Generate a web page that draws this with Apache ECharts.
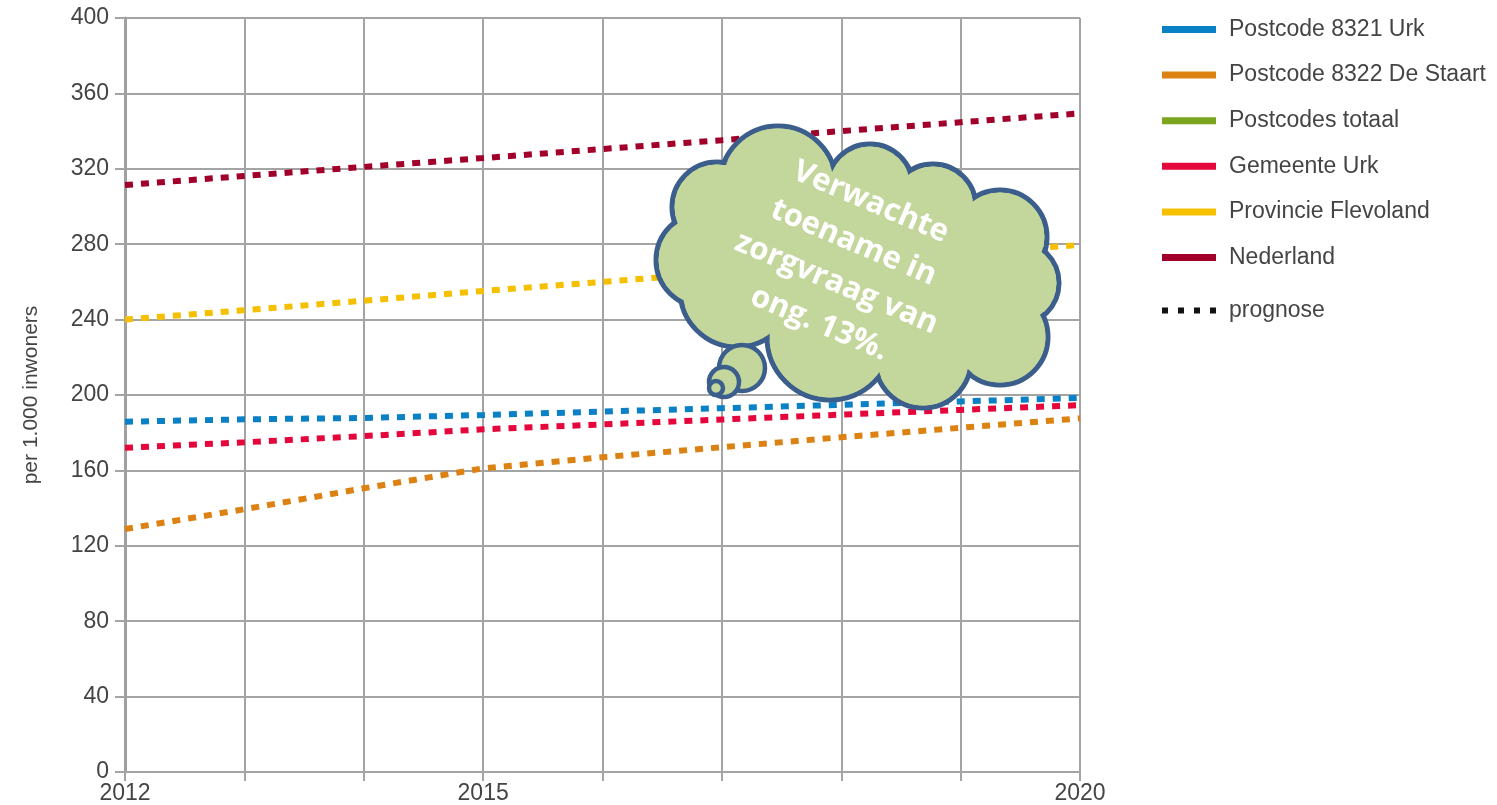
<!DOCTYPE html>
<html>
<head>
<meta charset="utf-8">
<script src="https://cdn.jsdelivr.net/npm/echarts@6/dist/echarts.min.js"></script>
<style>
html,body{margin:0;padding:0;background:#fff;}
#chart{width:1497px;height:805px;}
</style>
</head>
<body>
<div id="chart"></div>
<script>
// ---- data ----
const years = [2012, 2013, 2014, 2015, 2016, 2017, 2018, 2019, 2020];
const xTickLabels = [2012, 2015, 2020];
const seriesNames = ['Postcode 8321 Urk', 'Postcode 8322 De Staart', 'Postcodes totaal', 'Gemeente Urk', 'Provincie Flevoland', 'Nederland'];
const urk8321 = [185.8, 187.1, 187.8, 189.4, 191.2, 193.0, 194.8, 196.6, 198.4];
const staart8322 = [128.9, 139.4, 150.5, 161.1, 167.0, 172.3, 177.6, 182.6, 187.6];
const postcodesTotaal = [];
const gemeenteUrk = [172.0, 174.9, 178.2, 181.8, 184.4, 187.0, 189.6, 192.1, 194.6];
const flevoland = [240.0, 245.0, 250.0, 255.2, 260.0, 265.0, 270.0, 275.0, 279.6];
const nederland = [311.4, 316.2, 321.0, 325.7, 330.5, 335.2, 340.0, 344.7, 349.4];
const yTicks = [0, 40, 80, 120, 160, 200, 240, 280, 320, 360, 400];
const calloutText = 'Verwachte\ntoename in\nzorgvraag van\nong. 13%.';

const colors = ['#0a80c6', '#db8213', '#7aa51c', '#e5073c', '#f4c000', '#a0002a'];
const valueSets = [urk8321, staart8322, postcodesTotaal, gemeenteUrk, flevoland, nederland];

const chart = echarts.init(document.getElementById('chart'));

const series = seriesNames.map((name, i) => ({
  name: name,
  type: 'line',
  data: valueSets[i].map((v, j) => [years[j], v]),
  showSymbol: false,
  color: colors[i],
  lineStyle: { width: 6, type: [8, 8], cap: 'butt', color: colors[i] },
  z: 3
}));
series.push({
  name: 'prognose', type: 'line', data: [], color: '#111', showSymbol: false,
  lineStyle: { width: 6, type: [6, 10], color: '#111' }
});

// cloud geometry (annotation shape)
const lobes = [
  [778, 184, 58], [870, 187, 43], [933, 207, 43], [1000, 237, 47], [1017, 283, 42],
  [1000, 337, 48], [923, 360, 48], [830, 337, 63], [737, 290, 57], [703, 260, 47], [717, 207, 45]
];
const fillC = '#c3d69b', strokeC = '#3b5e8c';
const cloudEls = [];
lobes.forEach(l => cloudEls.push({ type: 'circle', shape: { cx: l[0], cy: l[1], r: l[2] }, style: { fill: fillC, stroke: strokeC, lineWidth: 5 }, z: 100 }));
lobes.forEach(l => cloudEls.push({ type: 'circle', shape: { cx: l[0], cy: l[1], r: l[2] - 2.6 }, style: { fill: fillC }, z: 101 }));
cloudEls.push({ type: 'ellipse', shape: { cx: 865, cy: 268, rx: 130, ry: 85 }, style: { fill: fillC }, z: 101 });
// thought bubbles
[[742, 368, 23], [724, 382, 15], [716, 388, 7]].forEach((b, i) => cloudEls.push({
  type: 'circle', shape: { cx: b[0], cy: b[1], r: b[2] }, style: { fill: fillC, stroke: strokeC, lineWidth: 4.5 }, z: 102 + i
}));
cloudEls.push({
  type: 'text', x: 845, y: 263, rotation: -23 * Math.PI / 180, z: 110,
  style: { text: calloutText, fill: '#ffffff', font: 'bold 31px "Open Sans"', lineHeight: 44, align: 'center', verticalAlign: 'middle' }
});

const legendText = { fontSize: 23, lineHeight: 23, color: '#444', fontFamily: 'Liberation Sans', padding: [0, 0, 0, 8] };

chart.setOption({
  animation: false,
  backgroundColor: '#ffffff',
  grid: { left: 125, right: 417, top: 18, bottom: 33, containLabel: false },
  legend: [
    {
      orient: 'vertical', left: 1157, top: 13, itemWidth: 54, itemHeight: 7, itemGap: 22.6, icon: 'rect',
      data: seriesNames,
      textStyle: legendText
    },
    {
      orient: 'vertical', left: 1157, top: 294, itemWidth: 54, itemHeight: 6,
      icon: 'path://M0,0h6v6h-6z M16,0h6v6h-6z M32,0h6v6h-6z M48,0h6v6h-6z',
      data: ['prognose'],
      textStyle: legendText
    }
  ],
  xAxis: {
    type: 'value', min: 2012, max: 2020, interval: 1,
    axisLine: { show: true, lineStyle: { color: '#a4a4a4', width: 2 } },
    axisTick: { show: true, length: 9, lineStyle: { color: '#a4a4a4', width: 2 } },
    splitLine: { show: true, lineStyle: { color: '#a4a4a4', width: 2 } },
    axisLabel: {
      fontSize: 23, color: '#444', fontFamily: 'Liberation Sans', margin: 10,
      formatter: v => xTickLabels.indexOf(v) >= 0 ? String(v) : ''
    }
  },
  yAxis: {
    type: 'value', min: 0, max: 400, interval: 40,
    name: 'per 1.000 inwoners', nameLocation: 'middle', nameGap: 83, nameRotate: 90,
    nameTextStyle: { fontSize: 21, color: '#444', fontFamily: 'Liberation Sans' },
    axisLine: { show: true, lineStyle: { color: '#a0a0a0', width: 3 } },
    axisTick: { show: true, length: 10, lineStyle: { color: '#a4a4a4', width: 2 } },
    splitLine: { show: true, lineStyle: { color: '#a4a4a4', width: 2 } },
    axisLabel: { fontSize: 23, color: '#444', fontFamily: 'Liberation Sans', margin: 16,
      formatter: v => yTicks.indexOf(v) >= 0 ? String(v) : '' }
  },
  series: series,
  graphic: cloudEls
});
</script>
</body>
</html>
